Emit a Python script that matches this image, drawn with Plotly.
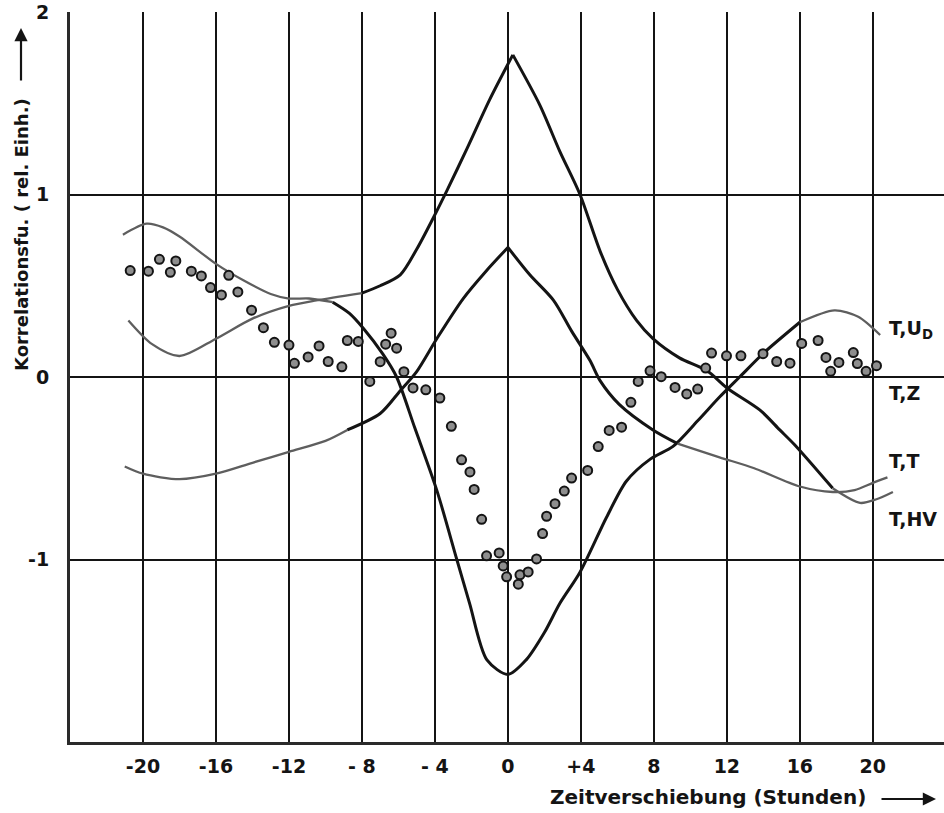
import plotly.graph_objects as go

# ---------------- data ----------------
x_ticks = [-20, -16, -12, -8, -4, 0, 4, 8, 12, 16, 20]
x_tick_text = ["-20", "-16", "-12", "- 8", "- 4", "0", "+4", "8", "12", "16", "20"]
y_ticks = [-1, 0, 1, 2]
y_tick_text = ["-1", "0", "1", "2"]

# curve ending at label "T,U_D"
tud_x = [-21.1, -19.8, -18.9, -18, -16, -14.5, -13, -12, -10.9, -9.6, -8.7, -7.95, -6.85, -6.1,
         -5.1, -3.9, -2.8, -2.1, -1.15, 0, 1.0, 2.0, 2.85, 3.95, 5.4, 6.5, 7.8, 9.05, 10.4,
         11.6, 12.7, 14.0, 16, 17.9, 19.2, 20.4]
tud_y = [0.78, 0.84, 0.82, 0.77, 0.62, 0.53, 0.455, 0.43, 0.43, 0.41, 0.35, 0.27, 0.125, 0.0,
         -0.28, -0.62, -1.0, -1.24, -1.55, -1.63, -1.55, -1.40, -1.24, -1.07, -0.77, -0.57, -0.45,
         -0.38, -0.24, -0.11, 0.0, 0.13, 0.30, 0.365, 0.33, 0.23]

# curve ending at label "T,HV"
thv_x = [-20.8, -19.5, -18, -16, -14, -12, -10.5, -8, -7, -5.9, -5.0, -4.1, -3.35, -2.25, -1.0,
         0.27, 1.75, 2.85, 3.95, 5.05, 6.0, 7.05, 7.95, 9.4, 10.9, 12, 13.8, 14.9, 15.7, 17.8,
         19.3, 20.2, 21.1]
thv_y = [0.31, 0.18, 0.115, 0.21, 0.32, 0.39, 0.42, 0.46, 0.50, 0.56, 0.70, 0.87, 1.02, 1.25,
         1.52, 1.765, 1.49, 1.235, 1.0, 0.69, 0.48, 0.31, 0.21, 0.105, 0.035, -0.06, -0.18, -0.29,
         -0.37, -0.61, -0.69, -0.67, -0.63]

# curve ending at label "T,T"
tt_x = [-21, -20, -18, -16, -14, -12, -10, -8.8, -7, -5.9, -5, -3.9, -2.45, -1.2, 0, 1.2, 2.5,
        3.5, 4.5, 5.05, 6.1, 7.95, 9.3, 11.6, 13.5, 16, 17.8, 19, 20, 20.8]
tt_y = [-0.49, -0.53, -0.56, -0.53, -0.47, -0.41, -0.35, -0.29, -0.2, -0.075, 0.03, 0.21, 0.43,
        0.58, 0.71, 0.56, 0.42, 0.25, 0.09, -0.02, -0.15, -0.29, -0.365, -0.44, -0.50, -0.60,
        -0.63, -0.62, -0.58, -0.55]

# measured points (label "T,Z")
tz_x = [-20.7, -19.7, -19.1, -18.5, -18.2, -17.35, -16.8, -16.3, -15.7, -15.3, -14.8, -14.05,
        -13.4, -12.8, -12.0, -11.7, -10.95, -10.35, -9.85, -9.1, -8.8, -8.2, -7.57, -7.0, -6.7,
        -6.4, -6.1, -5.7, -5.2, -4.5, -3.73, -3.1, -2.54, -2.08, -1.85, -1.44, -1.17, -0.48,
        -0.26, -0.07, 0.57, 0.66, 1.11, 1.57, 1.9, 2.12, 2.58, 3.09, 3.49, 4.37, 4.95, 5.55,
        6.23, 6.74, 7.14, 7.79, 8.4, 9.16, 9.8, 10.4, 10.84, 11.16, 11.98, 12.77, 13.98, 14.73,
        15.46, 16.1, 17.0, 17.43, 17.69, 18.14, 18.93, 19.15, 19.63, 20.2]
tz_y = [0.583, 0.58, 0.645, 0.574, 0.636, 0.58, 0.554, 0.49, 0.45, 0.557, 0.466, 0.366, 0.27,
        0.19, 0.175, 0.075, 0.11, 0.17, 0.085, 0.056, 0.20, 0.195, -0.024, 0.084, 0.18, 0.24,
        0.158, 0.029, -0.06, -0.07, -0.115, -0.27, -0.454, -0.52, -0.616, -0.78, -0.98, -0.964,
        -1.035, -1.095, -1.135, -1.084, -1.068, -0.997, -0.858, -0.763, -0.694, -0.625, -0.554,
        -0.512, -0.381, -0.293, -0.275, -0.139, -0.024, 0.034, 0.002, -0.057, -0.093, -0.066,
        0.049, 0.131, 0.116, 0.116, 0.128, 0.085, 0.076, 0.184, 0.20, 0.107, 0.031, 0.08, 0.134,
        0.074, 0.031, 0.062]

curve_labels = ["T,U<sub>D</sub>", "T,Z", "T,T", "T,HV"]
label_y = [0.26, -0.09, -0.46, -0.78]

# ---------------- figure ----------------
FONT = "DejaVu Sans, sans-serif"
INK = "#141414"
GREY = "#5e5e5e"
W, H = 944, 813
ML, MR, MT, MB = 70, 0, 12, 71
PW, PH = W - ML - MR, H - MT - MB


def px(xp):
    return (xp - ML) / PW


def py(yp):
    return 1 - (yp - MT) / PH


fig = go.Figure()


def add_curve(xs, ys, pieces):
    """pieces: list of (x_from, x_to, colour, width); each piece is its own spline,
    so joints between pieces stay sharp (cusp-like peaks as drawn in the original)."""
    for x0, x1, col, w in pieces:
        idx = [i for i, v in enumerate(xs) if x0 <= v <= x1]
        fig.add_trace(go.Scatter(x=[xs[i] for i in idx], y=[ys[i] for i in idx], mode="lines",
                                 line=dict(color=col, width=w, shape="spline", smoothing=0.8),
                                 hoverinfo="skip", showlegend=False, cliponaxis=False))


add_curve(tud_x, tud_y, [(-99, -9.6, GREY, 2.3), (-9.6, 16, INK, 3.0), (16, 99, GREY, 2.3)])
add_curve(thv_x, thv_y, [(-99, -8, GREY, 2.3), (-8, 0.27, INK, 3.0), (0.27, 17.8, INK, 3.0),
                         (17.8, 99, GREY, 2.3)])
add_curve(tt_x, tt_y, [(-99, -8.8, GREY, 2.3), (-8.8, 0, INK, 3.0), (0, 9.3, INK, 3.0),
                       (9.3, 99, GREY, 2.3)])

fig.add_trace(go.Scatter(x=tz_x, y=tz_y, mode="markers",
                         marker=dict(size=9, color="#8e8e8e", line=dict(color=INK, width=2)),
                         showlegend=False, hoverinfo="skip"))

for txt, yy in zip(curve_labels, label_y):
    fig.add_annotation(x=20.75, y=yy, xref="x", yref="y", text=txt, showarrow=False,
                       xanchor="left", yanchor="middle",
                       font=dict(family=FONT, size=19, color=INK, weight="bold"))

# axis titles with long arrows
fig.add_annotation(xref="paper", yref="paper", x=px(21), y=py(235),
                   text="Korrelationsfu. ( rel. Einh.)", textangle=-90,
                   showarrow=False, xanchor="center", yanchor="middle",
                   font=dict(family=FONT, size=18, color=INK, weight="bold"))
fig.add_annotation(xref="paper", yref="paper", x=px(21), y=py(28), text="",
                   showarrow=True, ax=0, ay=54, arrowhead=2, arrowsize=1.2,
                   arrowwidth=2.2, arrowcolor=INK)
fig.add_annotation(xref="paper", yref="paper", x=px(868), y=py(797),
                   text="Zeitverschiebung (Stunden)", showarrow=False,
                   xanchor="right", yanchor="middle",
                   font=dict(family=FONT, size=20, color=INK, weight="bold"))
fig.add_annotation(xref="paper", yref="paper", x=px(936), y=py(799), text="",
                   showarrow=True, ax=-56, ay=0, arrowhead=2, arrowsize=1.2,
                   arrowwidth=2.2, arrowcolor=INK)

fig.update_layout(
    width=W, height=H,
    margin=dict(l=ML, r=MR, t=MT, b=MB),
    paper_bgcolor="white", plot_bgcolor="white",
    font=dict(family=FONT, color=INK),
    xaxis=dict(range=[-24, 23.9], tickvals=x_ticks, ticktext=x_tick_text,
               showgrid=True, gridcolor=INK, gridwidth=2, zeroline=False,
               showline=True, linecolor="#2a2a2a", linewidth=3, ticks="",
               ticklabelstandoff=5,
               tickfont=dict(family=FONT, size=19, color=INK, weight="bold")),
    yaxis=dict(range=[-2, 2], tickvals=y_ticks, ticktext=y_tick_text,
               showgrid=True, gridcolor=INK, gridwidth=2, zeroline=False,
               showline=True, linecolor="#2a2a2a", linewidth=3, ticks="",
               ticklabelstandoff=14,
               tickfont=dict(family=FONT, size=19, color=INK, weight="bold")),
)

fig.write_html("out.html")
